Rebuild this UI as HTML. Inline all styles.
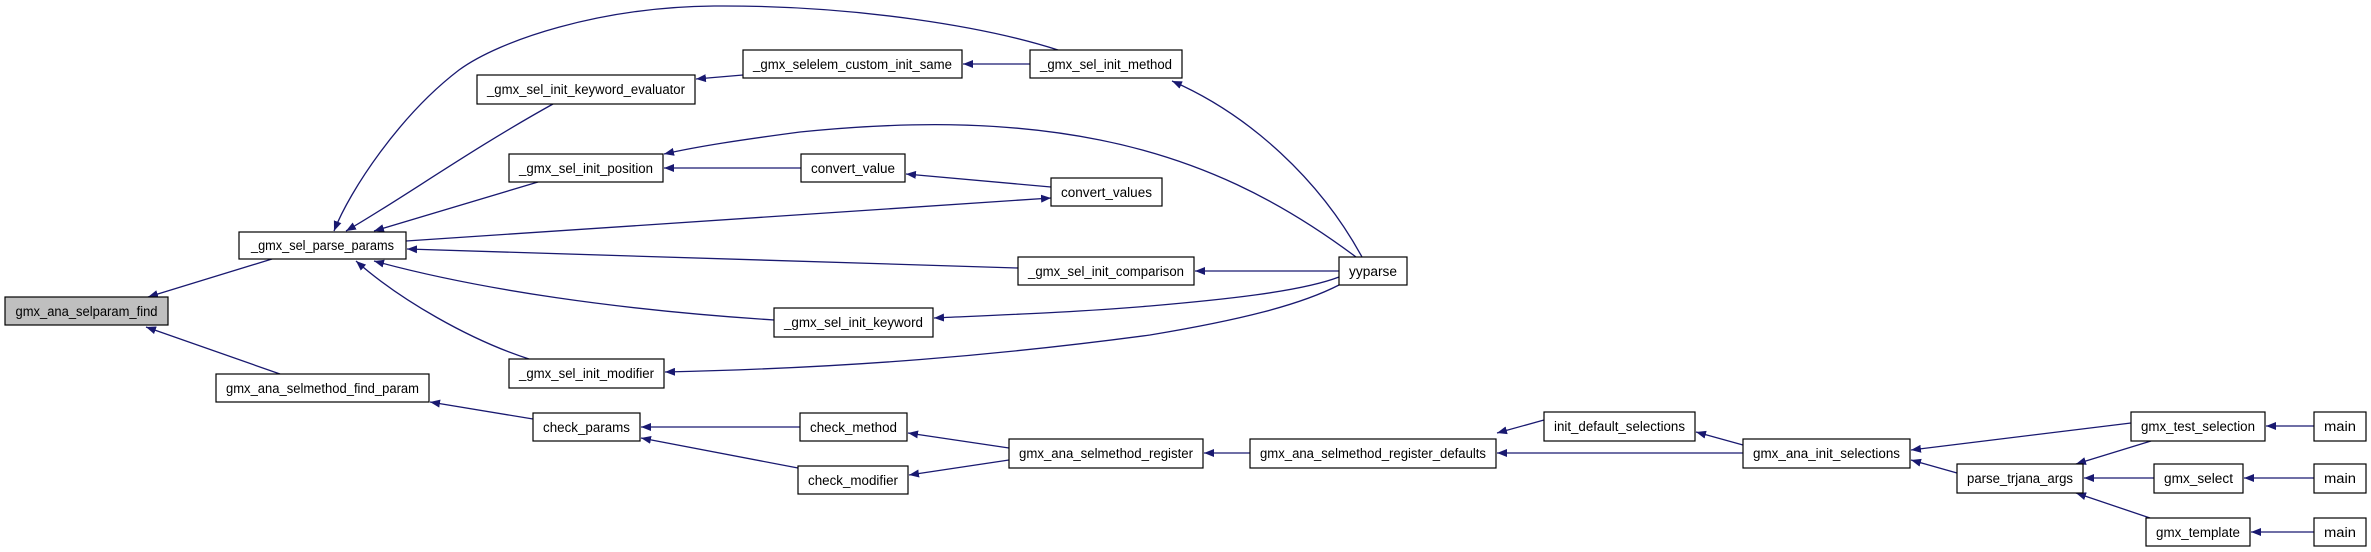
<!DOCTYPE html>
<html><head><meta charset="utf-8"><style>
html,body{margin:0;padding:0;background:#fff;}
svg{display:block;}
text{font-family:"Liberation Sans",sans-serif;font-size:13.5px;fill:#000;}
</style></head><body>
<svg width="2371" height="552" viewBox="0 0 2371 552" xmlns="http://www.w3.org/2000/svg">
<defs>
<marker id="a" markerWidth="11" markerHeight="8" refX="10" refY="4" orient="auto" markerUnits="userSpaceOnUse">
<path d="M0,0 L10,4 L0,8 Z" fill="#191970"/>
</marker>
</defs>
<g fill="none" stroke="#191970" stroke-width="1.3" marker-end="url(#a)">
<path d="M272,259 L148,297"/>
<path d="M280,374 L146,327"/>
<path d="M533,419 L430,402"/>
<path d="M800,427 L641,427"/>
<path d="M798,468 L641,438"/>
<path d="M1009,448 L908,433"/>
<path d="M1009,460 L909,475"/>
<path d="M1250,453 L1204,453"/>
<path d="M1544,420 L1497,433"/>
<path d="M1743,445 L1696,432"/>
<path d="M1743,453 L1497,453"/>
<path d="M2131,423 L1911,450"/>
<path d="M1957,473 L1911,460"/>
<path d="M2151,441 L2076,464"/>
<path d="M2154,478 L2084,478"/>
<path d="M2150,518 L2076,493"/>
<path d="M2314,426 L2266,426"/>
<path d="M2314,478 L2244,478"/>
<path d="M2314,532 L2251,532"/>
<path d="M1058,50 C990,28 860,5 714,6 C600,7 500,40 459,70 C400,115 350,190 334,231"/>
<path d="M553,104 C470,150 400,200 346,231"/>
<path d="M743,75 L696,79"/>
<path d="M1030,64 L963,64"/>
<path d="M538,182 L374,231"/>
<path d="M1362,257 C1320,180 1250,115 1172,81"/>
<path d="M1356,257 C1280,200 1200,160 1100,140 C1000,120 900,122 800,132 C740,140 700,146 664,154"/>
<path d="M801,168 L664,168"/>
<path d="M1051,187 L906,174"/>
<path d="M406,241 L1051,198"/>
<path d="M1018,268 L407,249"/>
<path d="M1339,271 L1195,271"/>
<path d="M774,320 C620,310 480,290 374,261"/>
<path d="M1339,277 C1300,292 1219,300 1150,306 C1080,312 1000,315 934,318"/>
<path d="M529,359 C470,340 400,300 356,261"/>
<path d="M1339,285 C1300,305 1240,320 1150,335 C1000,355 850,368 665,372"/>
</g>
<g stroke="#000" stroke-width="1.2" fill="#fff">
<rect x="5" y="297" width="163" height="28" fill="#bfbfbf"/>
<rect x="239" y="232" width="167" height="27"/>
<rect x="216" y="374" width="213" height="28"/>
<rect x="477" y="75" width="218" height="29"/>
<rect x="509" y="154" width="154" height="28"/>
<rect x="509" y="359" width="155" height="29"/>
<rect x="774" y="308" width="159" height="29"/>
<rect x="533" y="413" width="107" height="28"/>
<rect x="800" y="413" width="107" height="28"/>
<rect x="798" y="466" width="110" height="28"/>
<rect x="743" y="50" width="219" height="28"/>
<rect x="1030" y="50" width="152" height="28"/>
<rect x="801" y="154" width="104" height="28"/>
<rect x="1051" y="178" width="111" height="28"/>
<rect x="1018" y="257" width="176" height="28"/>
<rect x="1339" y="257" width="68" height="28"/>
<rect x="1009" y="439" width="194" height="29"/>
<rect x="1250" y="439" width="246" height="29"/>
<rect x="1544" y="412" width="151" height="29"/>
<rect x="1743" y="439" width="167" height="29"/>
<rect x="1957" y="464" width="126" height="29"/>
<rect x="2131" y="412" width="134" height="29"/>
<rect x="2154" y="464" width="89" height="29"/>
<rect x="2146" y="518" width="104" height="28"/>
<rect x="2314" y="412" width="52" height="29"/>
<rect x="2314" y="464" width="52" height="29"/>
<rect x="2314" y="518" width="52" height="28"/>
</g>
<g text-anchor="middle">
<text x="86.5" y="316" textLength="142" lengthAdjust="spacingAndGlyphs">gmx_ana_selparam_find</text>
<text x="322.5" y="250" textLength="143" lengthAdjust="spacingAndGlyphs">_gmx_sel_parse_params</text>
<text x="322.5" y="393" textLength="193" lengthAdjust="spacingAndGlyphs">gmx_ana_selmethod_find_param</text>
<text x="586" y="94" textLength="198" lengthAdjust="spacingAndGlyphs">_gmx_sel_init_keyword_evaluator</text>
<text x="586" y="173" textLength="134" lengthAdjust="spacingAndGlyphs">_gmx_sel_init_position</text>
<text x="586.5" y="378" textLength="135" lengthAdjust="spacingAndGlyphs">_gmx_sel_init_modifier</text>
<text x="853.5" y="327" textLength="139" lengthAdjust="spacingAndGlyphs">_gmx_sel_init_keyword</text>
<text x="586.5" y="432" textLength="87" lengthAdjust="spacingAndGlyphs">check_params</text>
<text x="853.5" y="432" textLength="87" lengthAdjust="spacingAndGlyphs">check_method</text>
<text x="853" y="485" textLength="90" lengthAdjust="spacingAndGlyphs">check_modifier</text>
<text x="852.5" y="69" textLength="199" lengthAdjust="spacingAndGlyphs">_gmx_selelem_custom_init_same</text>
<text x="1106" y="69" textLength="132" lengthAdjust="spacingAndGlyphs">_gmx_sel_init_method</text>
<text x="853" y="173" textLength="84" lengthAdjust="spacingAndGlyphs">convert_value</text>
<text x="1106.5" y="197" textLength="91" lengthAdjust="spacingAndGlyphs">convert_values</text>
<text x="1106" y="276" textLength="156" lengthAdjust="spacingAndGlyphs">_gmx_sel_init_comparison</text>
<text x="1373" y="276" textLength="48" lengthAdjust="spacingAndGlyphs">yyparse</text>
<text x="1106" y="458" textLength="174" lengthAdjust="spacingAndGlyphs">gmx_ana_selmethod_register</text>
<text x="1373" y="458" textLength="226" lengthAdjust="spacingAndGlyphs">gmx_ana_selmethod_register_defaults</text>
<text x="1619.5" y="431" textLength="131" lengthAdjust="spacingAndGlyphs">init_default_selections</text>
<text x="1826.5" y="458" textLength="147" lengthAdjust="spacingAndGlyphs">gmx_ana_init_selections</text>
<text x="2020" y="483" textLength="106" lengthAdjust="spacingAndGlyphs">parse_trjana_args</text>
<text x="2198" y="431" textLength="114" lengthAdjust="spacingAndGlyphs">gmx_test_selection</text>
<text x="2198.5" y="483" textLength="69" lengthAdjust="spacingAndGlyphs">gmx_select</text>
<text x="2198" y="537" textLength="84" lengthAdjust="spacingAndGlyphs">gmx_template</text>
<text x="2340" y="431" textLength="32" lengthAdjust="spacingAndGlyphs">main</text>
<text x="2340" y="483" textLength="32" lengthAdjust="spacingAndGlyphs">main</text>
<text x="2340" y="537" textLength="32" lengthAdjust="spacingAndGlyphs">main</text>
</g>
</svg>
</body></html>
